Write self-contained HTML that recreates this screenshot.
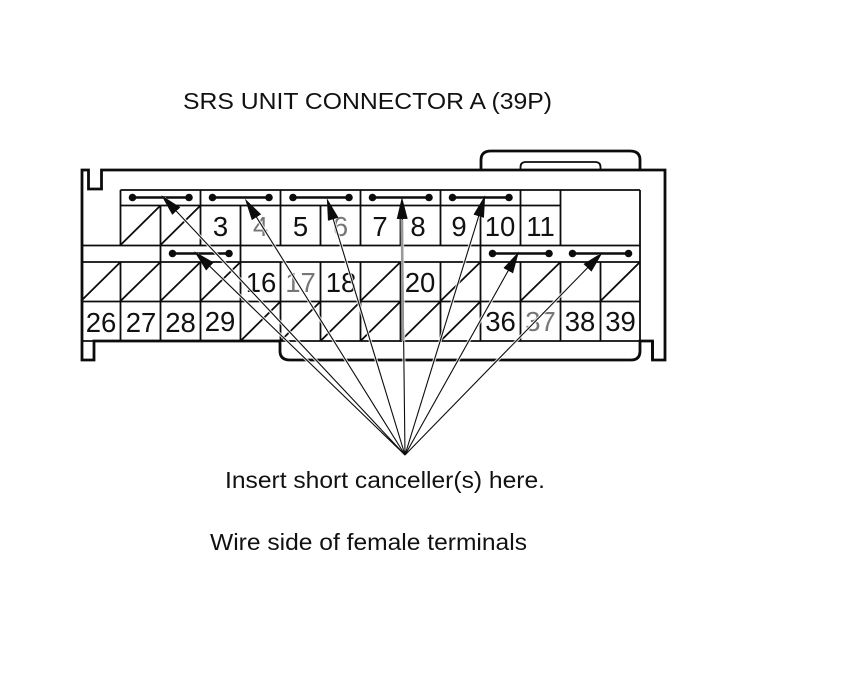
<!DOCTYPE html>
<html>
<head>
<meta charset="utf-8">
<style>
html,body{margin:0;padding:0;background:#fff;width:860px;height:690px;overflow:hidden}
svg{display:block}
text{font-family:"Liberation Sans",sans-serif;fill:#111}
.n{font-size:27.5px;text-anchor:middle}
.l{fill:#777}
.g{stroke:#0c0c0c;stroke-width:1.8;fill:none}
.o{stroke:#0c0c0c;stroke-width:2.8;fill:none}
.s{stroke:#0c0c0c;stroke-width:2.4}
.h{stroke:#fff;stroke-width:3.2;opacity:.8}
.a{stroke:#0c0c0c;stroke-width:1.1}
</style>
</head>
<body>
<svg width="860" height="690" viewBox="0 0 860 690" xmlns="http://www.w3.org/2000/svg">
<defs>
<marker id="m" markerUnits="userSpaceOnUse" markerWidth="24" markerHeight="14" refX="18" refY="7" orient="auto">
<path d="M0 1.500 L22 7 L0 12.500 Z" fill="#0c0c0c"/>
</marker>
</defs>
<rect width="860" height="690" fill="#fff"/>
<text x="183" y="109" font-size="23.5" textLength="369" lengthAdjust="spacingAndGlyphs">SRS UNIT CONNECTOR A (39P)</text>

<!-- outer housing -->
<path class="o" d="M82 341V170H88.500V189H101.500V170H665V360H652.500V341"/>
<path class="o" d="M82 341V360H94V341H280V351Q280 360 290 360H631Q640 360 640 351V341H652.500V360"/>
<path class="o" d="M481 169V160Q481 151 491 151H630Q640 151 640 160V169"/>
<path class="g" d="M520.500 169V167Q520.500 162 526 162H595Q600.500 162 600.500 167V169"/>

<!-- grid -->
<path class="g" d="M120.500 190H640M120.500 205.500H560M81 245.500H640M81 262H640M81 301.500H640M81 341H640"/>
<path class="g" d="M120.500 190V245M200.500 190V245M280.500 190V245M360.500 190V245M440.500 190V245M520.500 190V245M560.500 190V245M640 190V341"/>
<path class="g" d="M160.500 205V245M240.500 205V245M320.500 205V245M400.500 205V245M480.500 205V245"/>
<path class="g" d="M160.500 245V262M240.500 245V262M480.500 245V262"/>
<path class="g" d="M120.500 262V341M160.500 262V341M200.500 262V341M240.500 262V341M280.500 262V341M320.500 262V341M360.500 262V341M400.500 262V341M440.500 262V341M480.500 262V341M520.500 262V341M560.500 262V341M600.500 262V341"/>

<!-- diagonals -->
<path class="g" d="M120.500 245L160.500 205.500M160.500 245L200.500 205.500"/>
<path class="g" d="M81 301L120.500 262M120.500 301L160.500 262M160.500 301L200.500 262M200.500 301L240.500 262M360.500 301L400.500 262M440.500 301L480.500 262M520.500 301L560.500 262M600.500 301L640 262"/>
<path class="g" d="M240.500 341L280.500 301.500M280.500 341L320.500 301.500M320.500 341L360.500 301.500M360.500 341L400.500 301.500M400.500 341L440.500 301.500M440.500 341L480.500 301.500"/>

<!-- numbers -->
<text class="n" x="220.500" y="236">3</text>
<text class="n l" x="260.500" y="236">4</text>
<text class="n" x="300.500" y="236">5</text>
<text class="n l" x="340.500" y="236">6</text>
<text class="n" x="380" y="236">7</text>
<text class="n" x="418" y="236">8</text>
<text class="n" x="459" y="236">9</text>
<text class="n" x="500" y="236">10</text>
<text class="n" x="540.500" y="236">11</text>
<text class="n" x="261" y="292">16</text>
<text class="n l" x="300.500" y="292">17</text>
<text class="n" x="341" y="292">18</text>
<text class="n" x="420" y="292">20</text>
<text class="n" x="101" y="332">26</text>
<text class="n" x="141" y="332">27</text>
<text class="n" x="180.500" y="332">28</text>
<text class="n" x="220" y="331">29</text>
<text class="n" x="500.500" y="331">36</text>
<text class="n l" x="540.500" y="331">37</text>
<text class="n" x="580" y="331">38</text>
<text class="n" x="620.500" y="331">39</text>

<!-- shorting bars -->
<g fill="#0c0c0c">
<path class="s" d="M132.500 197.500H189M212.500 197.500H269M293 197.500H349M372.500 197.500H429M452.500 197.500H509M172.500 253.500H229M492.500 253.500H549M572.500 253.500H628.500"/>
<circle cx="132.500" cy="197.500" r="3.800"/><circle cx="189" cy="197.500" r="3.800"/>
<circle cx="212.500" cy="197.500" r="3.800"/><circle cx="269" cy="197.500" r="3.800"/>
<circle cx="293" cy="197.500" r="3.800"/><circle cx="349" cy="197.500" r="3.800"/>
<circle cx="372.500" cy="197.500" r="3.800"/><circle cx="429" cy="197.500" r="3.800"/>
<circle cx="452.500" cy="197.500" r="3.800"/><circle cx="509" cy="197.500" r="3.800"/>
<circle cx="172.500" cy="253.500" r="3.800"/><circle cx="229" cy="253.500" r="3.800"/>
<circle cx="492.500" cy="253.500" r="3.800"/><circle cx="549" cy="253.500" r="3.800"/>
<circle cx="572.500" cy="253.500" r="3.800"/><circle cx="628.500" cy="253.500" r="3.800"/>
</g>

<!-- arrow halos -->
<g class="h">
<line x1="405" y1="455" x2="164" y2="198"/>
<line x1="405" y1="455" x2="247" y2="202"/>
<line x1="405" y1="455" x2="328" y2="202"/>
<line x1="405" y1="455" x2="402" y2="201"/>
<line x1="405" y1="455" x2="484" y2="199"/>
<line x1="405" y1="455" x2="197" y2="254"/>
<line x1="405" y1="455" x2="517" y2="255"/>
<line x1="405" y1="455" x2="600" y2="255"/>
</g>
<!-- arrows -->
<g class="a">
<line x1="405" y1="455" x2="164" y2="198" marker-end="url(#m)"/>
<line x1="405" y1="455" x2="247" y2="202" marker-end="url(#m)"/>
<line x1="405" y1="455" x2="328" y2="202" marker-end="url(#m)"/>
<line x1="405" y1="455" x2="402" y2="201" marker-end="url(#m)"/>
<line x1="405" y1="455" x2="484" y2="199" marker-end="url(#m)"/>
<line x1="405" y1="455" x2="197" y2="254" marker-end="url(#m)"/>
<line x1="405" y1="455" x2="517" y2="255" marker-end="url(#m)"/>
<line x1="405" y1="455" x2="600" y2="255" marker-end="url(#m)"/>
</g>
<line x1="402" y1="220" x2="402.800" y2="341" stroke="#999" stroke-width="2.6"/>

<text x="225" y="488" font-size="23.500" textLength="320" lengthAdjust="spacingAndGlyphs">Insert short canceller(s) here.</text>
<text x="210" y="550" font-size="23.500" textLength="317" lengthAdjust="spacingAndGlyphs">Wire side of female terminals</text>
</svg>
</body>
</html>
